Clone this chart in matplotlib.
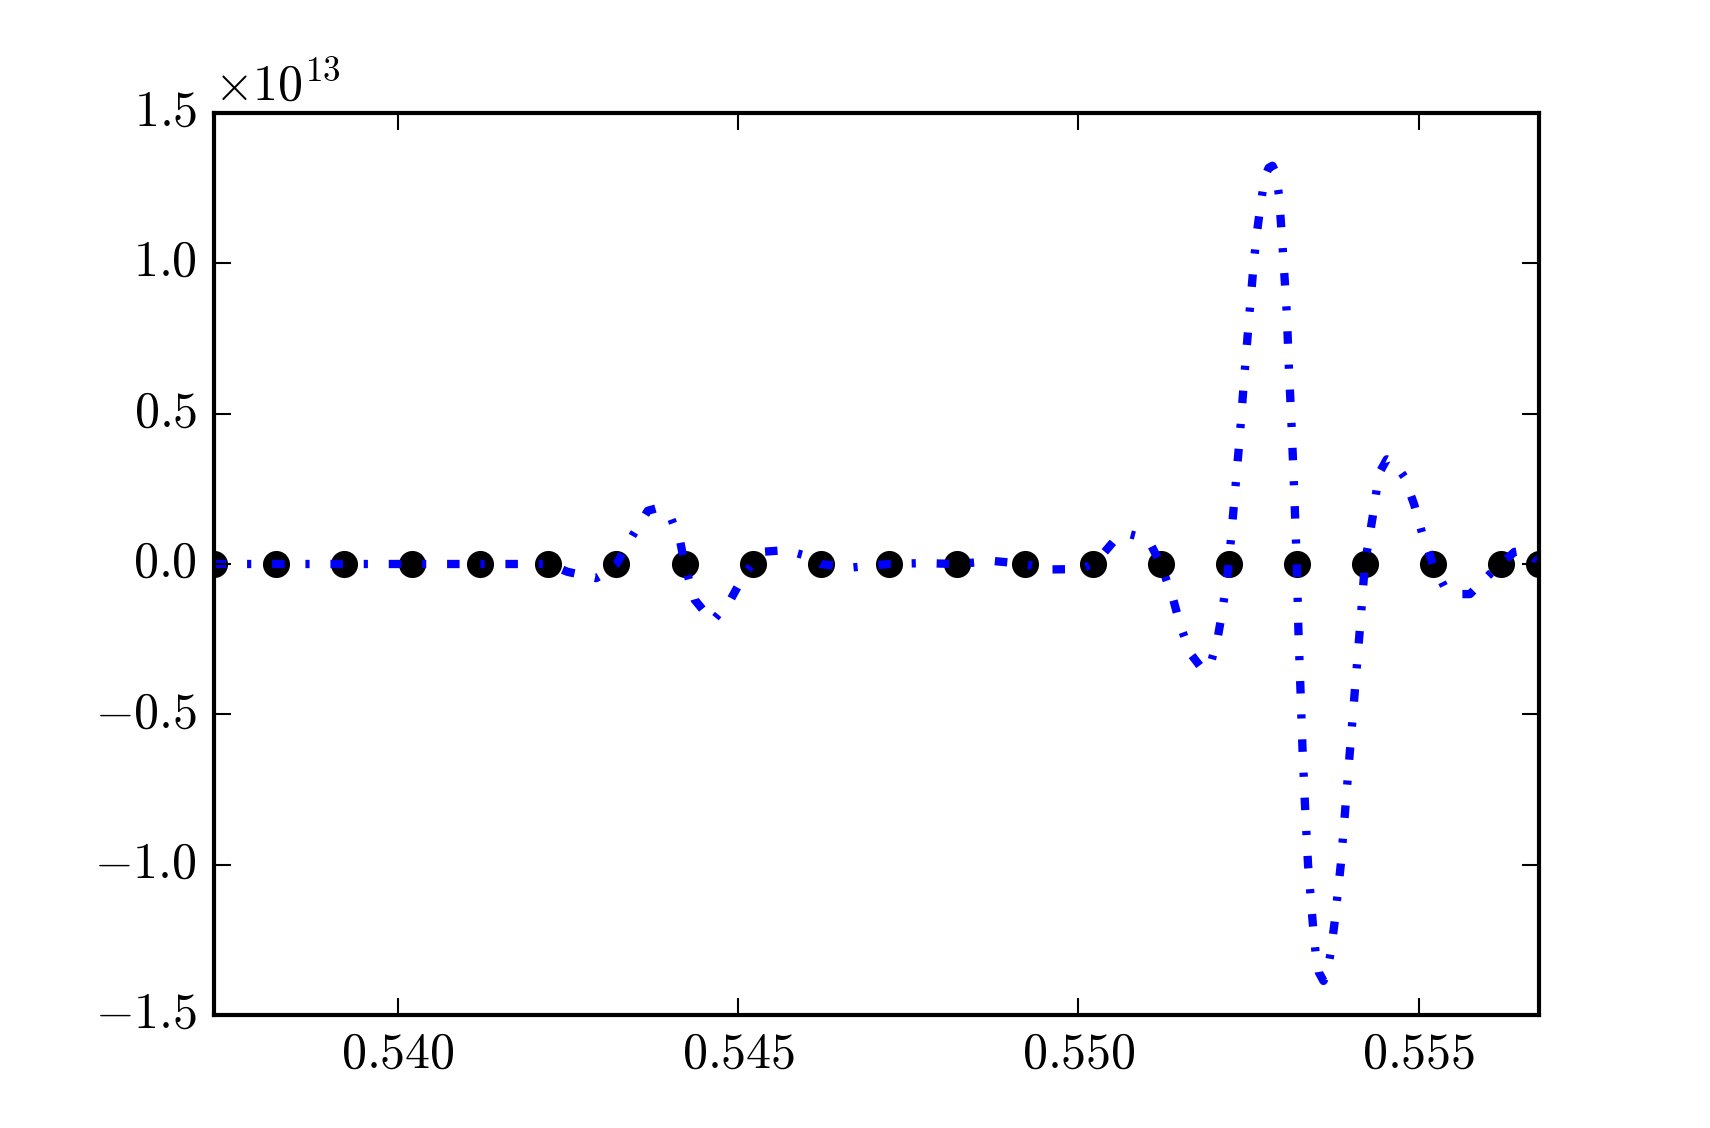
import numpy as np
import matplotlib
matplotlib.use('Agg')
import matplotlib.pyplot as plt


# 数据点 (y 以 1e13 为单位)
node_x = [0.53729, 0.53821, 0.53921, 0.54021, 0.54121, 0.54221, 0.54321, 0.54421,
          0.54521, 0.54621, 0.54721, 0.54821, 0.54921, 0.55021, 0.55121, 0.55221,
          0.55321, 0.55421, 0.55521, 0.55621, 0.55677]
node_y = [0.0] * 21

# 插值曲线
curve_x = [0.53729, 0.53821, 0.53921, 0.54021, 0.54121, 0.54221,
           0.54249, 0.54291, 0.54304, 0.54321,
           0.54345, 0.54367, 0.54381, 0.544, 0.54415, 0.54421,
           0.54436, 0.54462, 0.54489, 0.5451, 0.54521,
           0.54538, 0.5457, 0.546, 0.54621,
           0.54665, 0.54721,
           0.54771, 0.54821,
           0.54875, 0.54921,
           0.5496, 0.55002, 0.55021,
           0.55037, 0.55056, 0.55072, 0.55091, 0.55106, 0.55121,
           0.551389, 0.551502, 0.55165, 0.551797, 0.55192, 0.552042, 0.552116, 0.552175, 0.55221,
           0.552298, 0.552371, 0.552435, 0.552504, 0.552577, 0.552621, 0.552676, 0.552739, 0.552797,
           0.552852, 0.5529, 0.552949, 0.553008, 0.553062, 0.553095, 0.553135, 0.553169, 0.55321,
           0.553234, 0.553264, 0.553293, 0.553331, 0.553375, 0.553444, 0.553484, 0.553533, 0.553602,
           0.553658, 0.553709, 0.553764, 0.553856, 0.553925, 0.553993, 0.554062, 0.554132, 0.554166, 0.55421,
           0.554324, 0.554386, 0.554445, 0.554533, 0.554651, 0.554788, 0.554935, 0.555049, 0.55521,
           0.555377, 0.555564, 0.555755, 0.556064, 0.55621,
           0.556407, 0.55658, 0.55677]
curve_y = [0.0, 0.0, 0.0, 0.0, 0.0, 0.0,
           -0.026, -0.047, -0.03, 0.0,
           0.096, 0.177, 0.186, 0.160, 0.071, 0.0,
           -0.119, -0.191, -0.117, -0.031, 0.0,
           0.041, 0.046, 0.027, 0.0,
           -0.012, 0.0,
           0.003, 0.0,
           0.010, 0.0,
           -0.018, -0.017, 0.0,
           0.036, 0.086, 0.101, 0.090, 0.066, 0.0,
           -0.114, -0.208, -0.299, -0.342, -0.350, -0.252, -0.156, -0.059, 0.0,
           0.229, 0.422, 0.614, 0.806, 1.000, 1.097, 1.191, 1.287, 1.317,
           1.324, 1.301, 1.224, 1.031, 0.837, 0.644, 0.450, 0.256, 0.0,
           -0.225, -0.418, -0.611, -0.805, -0.999, -1.192, -1.288, -1.357, -1.386,
           -1.357, -1.290, -1.194, -1.000, -0.807, -0.615, -0.424, -0.230, -0.133, 0.0,
           0.155, 0.251, 0.312, 0.348, 0.335, 0.290, 0.198, 0.105, 0.0,
           -0.075, -0.100, -0.100, -0.030, 0.0,
           0.040, 0.046, 0.005]

scale = 1e13

plt.style.use('classic')
plt.rcParams['font.family'] = 'serif'
plt.rcParams['font.serif'] = ['cmr10']
plt.rcParams['mathtext.fontset'] = 'cm'
plt.rcParams['axes.formatter.use_mathtext'] = True

fig = plt.figure(figsize=(5.7, 3.76))
ax = fig.add_subplot(111)
# 先画数据点, 再画曲线
ax.plot(node_x, np.array(node_y) * scale, 'ko')
ax.plot(curve_x, np.array(curve_y) * scale, 'b-.', linewidth=2)
ax.set_xlim(node_x[0], node_x[-1])
ax.set_ylim(-1.5e13, 1.5e13)
ax.set_xticks([0.540, 0.545, 0.550, 0.555])
ax.ticklabel_format(axis='x', useOffset=False)
fig.savefig('out.png', dpi=300)
